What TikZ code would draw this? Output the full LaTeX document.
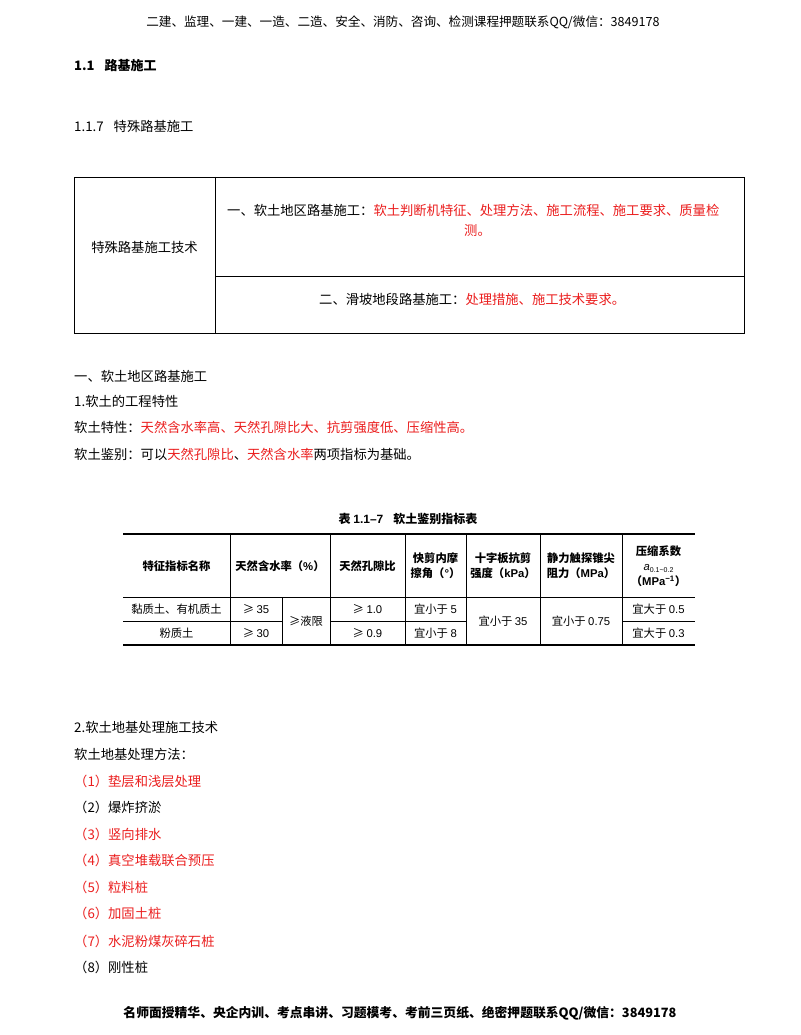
\documentclass[tikz,border=0pt]{standalone}
\usepackage{fontspec}
\setmainfont{Noto Sans CJK SC}
\newfontfamily\lat{Liberation Sans}
\definecolor{rd}{RGB}{235,30,30}
\begin{document}
\begin{tikzpicture}[x=1pt,y=-1pt,
  body/.style={anchor=west,inner sep=0,font=\fontsize{13.3}{15}\selectfont},
  tb/.style={inner sep=0,font=\fontsize{11.3}{15}\selectfont,align=center},
  ln/.style={line width=0.6pt}]
\useasboundingbox[fill=white] (0,0) rectangle (800,1035);
\node[inner sep=0,font=\fontsize{12.6}{14}\selectfont] (hd) at (403,22) {二建、监理、一建、一造、二造、安全、消防、咨询、检测课程押题联系QQ/微信：3849178};
\node[body,font=\fontsize{13}{14}\selectfont\bfseries] (t1) at (74,66) {1.1\hspace{10pt}路基施工};
\node[body] (t2) at (74,126) {1.1.7\hspace{10pt}特殊路基施工};
% top box
\draw[ln] (74,177) rectangle (744,333);
\draw[ln] (215,177) -- (215,333);
\draw[ln] (215,276) -- (744,276);
\node[inner sep=0,font=\fontsize{13.3}{15}\selectfont] (b1) at (144.5,247) {特殊路基施工技术};
\node[body] (b2) at (227,210) {一、软土地区路基施工：\textcolor{rd}{软土判断机特征、处理方法、施工流程、施工要求、质量检}};
\node[body] (b3) at (464,231) {\textcolor{rd}{测。}};
\node[body] (b4) at (319,299) {二、滑坡地段路基施工：\textcolor{rd}{处理措施、施工技术要求。}};
% section
\node[body] (s1) at (74,376) {一、软土地区路基施工};
\node[body] (s2) at (74,401) {1.软土的工程特性};
\node[body] (s3) at (74,427) {软土特性：\textcolor{rd}{天然含水率高、天然孔隙比大、抗剪强度低、压缩性高。}};
\node[body] (s4) at (74,454) {软土鉴别：可以\textcolor{rd}{天然孔隙比}、\textcolor{rd}{天然含水率}两项指标为基础。};
% table
\node[inner sep=0,font=\fontsize{12}{14}\selectfont\bfseries] (cap) at (408,519) {表 {\lat 1.1–7}\hspace{10pt}软土鉴别指标表};
\draw[line width=1.3pt] (123,534) -- (695,534);
\draw[line width=1.3pt] (123,645) -- (695,645);
\draw[ln] (123,597) -- (695,597);
\draw[ln] (123,621) -- (282,621) (330,621) -- (466,621) (622,621) -- (695,621);
\foreach \x in {230,330,405,466,540,622} \draw[ln] (\x,534) -- (\x,645);
\draw[ln] (282,597) -- (282,645);
\begin{scope}[every node/.style={tb}]
\node (h1) at (176.5,566) {\bfseries 特征指标名称};
\node (h2) at (280,566) {\bfseries 天然含水率（{\lat\%}）};
\node (h3) at (367.5,566) {\bfseries 天然孔隙比};
\node (h4) at (435.5,566) {\bfseries 快剪内摩\\\bfseries 擦角（{\lat °}）};
\node (h5) at (503,566) {\bfseries 十字板抗剪\\\bfseries 强度（{\lat kPa}）};
\node (h6) at (581,566) {\bfseries 静力触探锥尖\\\bfseries 阻力（{\lat MPa}）};
\node (h7) at (658.5,566) {\bfseries 压缩系数\\{\lat\itshape a\fontsize{7}{8}\selectfont\raisebox{-2pt}{\upshape 0.1\textasciitilde 0.2}}\\\bfseries（{\lat MPa\textsuperscript{−1}}）};
\node (r11) at (176.5,609) {黏质土、有机质土};
\node (r21) at (176.5,633) {粉质土};
\node (r12) at (256,609) {≥ {\lat 35}};
\node (r22) at (256,633) {≥ {\lat 30}};
\node (rl) at (306,621) {≥液限};
\node (r13) at (367.5,609) {≥ {\lat 1.0}};
\node (r23) at (367.5,633) {≥ {\lat 0.9}};
\node (r14) at (435.5,609) {宜小于 {\lat 5}};
\node (r24) at (435.5,633) {宜小于 {\lat 8}};
\node (r5) at (503,621) {宜小于 {\lat 35}};
\node (r6) at (581,621) {宜小于 {\lat 0.75}};
\node (r17) at (658.5,609) {宜大于 {\lat 0.5}};
\node (r27) at (658.5,633) {宜大于 {\lat 0.3}};
\end{scope}
% section 2
\node[body] (p1) at (74,727) {2.软土地基处理施工技术};
\node[body] (p2) at (74,754) {软土地基处理方法：};
\node[body,text=rd] (i1) at (74,781) {（1）垫层和浅层处理};
\node[body] (i2) at (74,807) {（2）爆炸挤淤};
\node[body,text=rd] (i3) at (74,834) {（3）竖向排水};
\node[body,text=rd] (i4) at (74,860) {（4）真空堆载联合预压};
\node[body,text=rd] (i5) at (74,887) {（5）粒料桩};
\node[body,text=rd] (i6) at (74,913) {（6）加固土桩};
\node[body,text=rd] (i7) at (74,941) {（7）水泥粉煤灰碎石桩};
\node[body] (i8) at (74,967) {（8）刚性桩};
\node[inner sep=0,font=\fontsize{12.8}{14}\selectfont\bfseries] (ft) at (400,1013) {名师面授精华、央企内训、考点串讲、习题模考、考前三页纸、绝密押题联系QQ/微信：3849178};
\end{tikzpicture}
\end{document}
